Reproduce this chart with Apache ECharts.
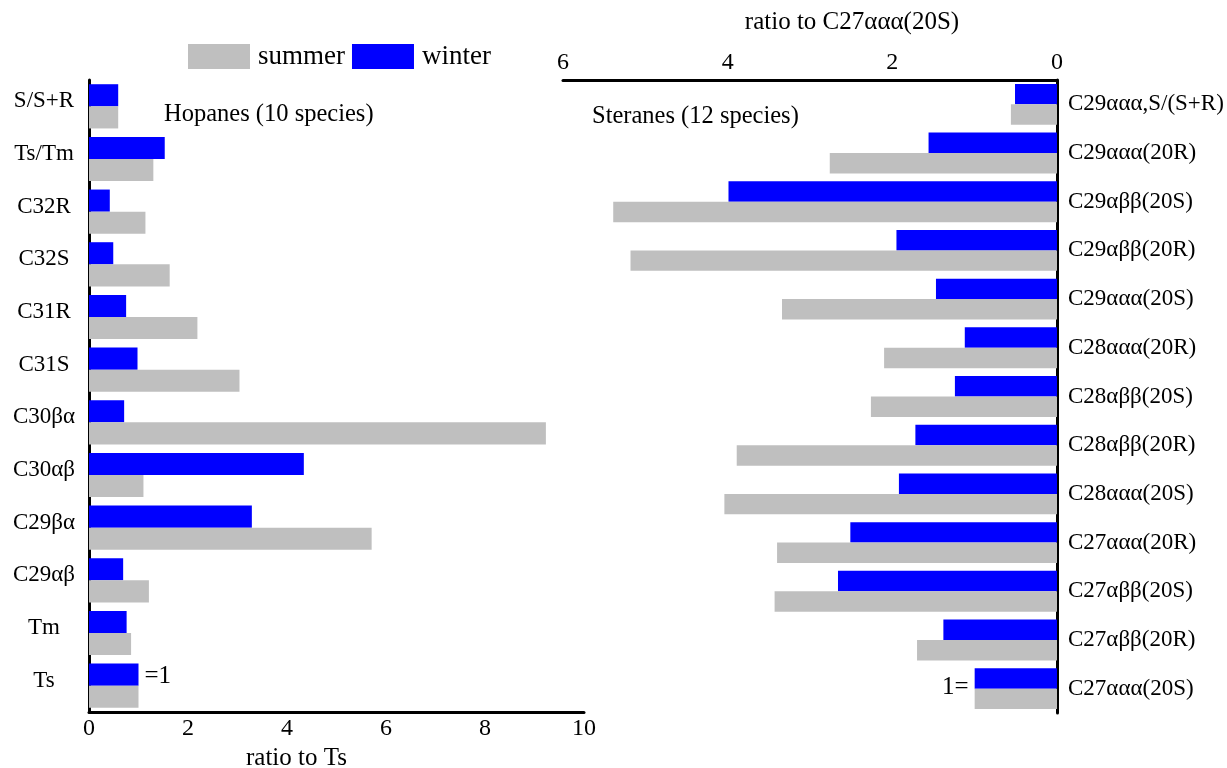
<!DOCTYPE html>
<html>
<head>
<meta charset="utf-8">
<script src="https://cdn.jsdelivr.net/npm/echarts@6/dist/echarts.min.js"></script>
<style>
html,body{margin:0;padding:0;background:#fff;}
#chart{width:1227px;height:768px;}
</style>
</head>
<body>
<div id="chart"></div>
<script>
// 藿烷 (左图), 相对 Ts
var hopaneNames = ['S/S+R','Ts/Tm','C32R','C32S','C31R','C31S','C30βα','C30αβ','C29βα','C29αβ','Tm','Ts'];
var hopaneSummer = [0.59,1.30,1.14,1.63,2.19,3.04,9.23,1.10,5.71,1.21,0.85,1.00];
var hopaneWinter = [0.59,1.53,0.42,0.49,0.75,0.98,0.71,4.34,3.29,0.69,0.76,1.00];
// 甾烷 (右图), 相对 C27ααα(20S)
var steraneNames = ['C29ααα,S/(S+R)','C29ααα(20R)','C29αββ(20S)','C29αββ(20R)','C29ααα(20S)','C28ααα(20R)','C28αββ(20S)','C28αββ(20R)','C28ααα(20S)','C27ααα(20R)','C27αββ(20S)','C27αββ(20R)','C27ααα(20S)'];
var steraneSummer = [0.56,2.76,5.39,5.18,3.34,2.10,2.26,3.89,4.04,3.40,3.43,1.70,1.00];
var steraneWinter = [0.51,1.56,3.99,1.95,1.47,1.12,1.24,1.72,1.92,2.51,2.66,1.38,1.00];
var seriesNames = ['summer','winter'];
var hopaneAxis = {min:0,max:10,interval:2};
var steraneAxis = {min:0,max:6,interval:2};

var font = 'Liberation Serif';
var grey = '#BFBFBF', blue = '#0000FF';

// 参比物 (=1) 加标注
function withRef(values, names, refName, text, pos, offset){
  return values.map(function(v,i){
    if(names[i]!==refName) return v;
    return {value:v,label:{show:true,position:pos,formatter:text,distance:6,offset:offset,
      color:'#000',fontFamily:font,fontSize:25}};
  });
}

var myChart = echarts.init(document.getElementById('chart'));
var option = {
  animation:false,
  textStyle:{fontFamily:font,color:'#000'},
  legend:{
    data:seriesNames,
    left:183, top:38,
    itemWidth:62, itemHeight:25, itemGap:7,
    icon:'rect',
    textStyle:{fontFamily:font,fontSize:27,color:'#000',padding:[0,0,0,3]}
  },
  grid:[
    {left:89,right:643,top:80,bottom:56,outerBoundsMode:'none'},
    {left:563,right:170,top:80,bottom:55,outerBoundsMode:'none'}
  ],
  xAxis:[
    {gridIndex:0,type:'value',min:hopaneAxis.min,max:hopaneAxis.max,interval:hopaneAxis.interval,
      position:'bottom',
      name:'ratio to Ts',nameLocation:'middle',nameGap:31,
      nameTextStyle:{fontFamily:font,fontSize:25,color:'#000',padding:[0,80,0,0]},
      axisLine:{show:true,lineStyle:{color:'#000',width:3}},
      axisTick:{show:false},splitLine:{show:false},
      axisLabel:{fontFamily:font,fontSize:24,color:'#000',margin:5}},
    {gridIndex:1,type:'value',min:steraneAxis.min,max:steraneAxis.max,interval:steraneAxis.interval,
      position:'top',inverse:true,
      name:'ratio to C27ααα(20S)',nameLocation:'middle',nameGap:45,
      nameTextStyle:{fontFamily:font,fontSize:25,color:'#000',padding:[0,0,0,84]},
      axisLine:{show:true,lineStyle:{color:'#000',width:3}},
      axisTick:{show:false},splitLine:{show:false},
      axisLabel:{fontFamily:font,fontSize:24,color:'#000',margin:5}}
  ],
  yAxis:[
    {gridIndex:0,type:'category',data:hopaneNames,inverse:true,position:'left',
      axisLine:{show:true,lineStyle:{color:'#000',width:3}},
      axisTick:{show:false},
      axisLabel:{fontFamily:font,fontSize:23,color:'#000',margin:45,align:'center',
        verticalAlign:'bottom',lineHeight:10}},
    {gridIndex:1,type:'category',data:steraneNames,inverse:true,position:'right',
      axisLine:{show:true,lineStyle:{color:'#000',width:3}},
      axisTick:{show:false},
      axisLabel:{fontFamily:font,fontSize:23,color:'#000',margin:11}}
  ],
  graphic:[
    {type:'text',left:164,top:102,style:{text:'Hopanes (10 species)',fontFamily:font,fontSize:24.5,fill:'#000'}},
    {type:'text',left:592,top:104,style:{text:'Steranes (12 species)',fontFamily:font,fontSize:24.5,fill:'#000'}}
  ],
  series:[
    {name:'winter',type:'bar',xAxisIndex:0,yAxisIndex:0,barGap:'0%',barCategoryGap:'16%',
      itemStyle:{color:blue},data:withRef(hopaneWinter,hopaneNames,'Ts','=1','right',[0,2])},
    {name:'summer',type:'bar',xAxisIndex:0,yAxisIndex:0,barGap:'0%',barCategoryGap:'16%',
      itemStyle:{color:grey},data:hopaneSummer},
    {name:'winter',type:'bar',xAxisIndex:1,yAxisIndex:1,barGap:'0%',barCategoryGap:'16%',
      itemStyle:{color:blue},data:withRef(steraneWinter,steraneNames,'C27ααα(20S)','1=','left',[0,9])},
    {name:'summer',type:'bar',xAxisIndex:1,yAxisIndex:1,barGap:'0%',barCategoryGap:'16%',
      itemStyle:{color:grey},data:steraneSummer}
  ]
};
myChart.setOption(option);
</script>
</body>
</html>
